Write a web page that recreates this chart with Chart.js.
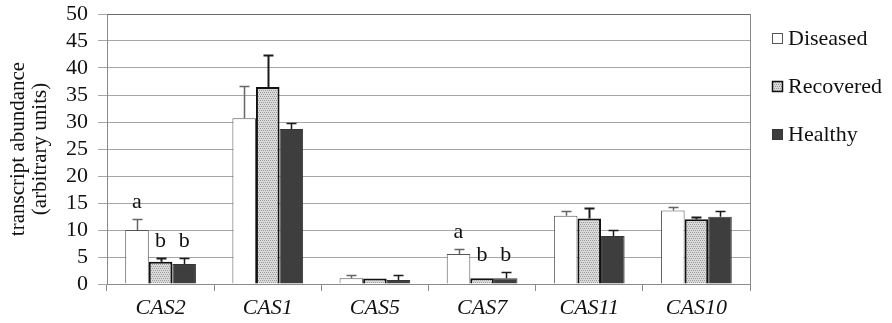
<!DOCTYPE html>
<html>
<head>
<meta charset="utf-8">
<script src="https://cdn.jsdelivr.net/npm/chart.js@4.4.0/dist/chart.umd.min.js"></script>
<style>
html,body{margin:0;padding:0;background:#fff;}
#wrap{width:892px;height:323px;position:relative;}
</style>
</head>
<body>
<div id="wrap"><canvas id="c" width="892" height="323"></canvas></div>
<script>
const categories = ['CAS2', 'CAS1', 'CAS5', 'CAS7', 'CAS11', 'CAS10'];
const seriesNames = ['Diseased', 'Recovered', 'Healthy'];
const diseased = [10.0, 30.7, 1.05, 5.55, 12.65, 13.6];
const recovered = [4.1, 36.5, 1.0, 1.05, 12.15, 12.0];
const healthy = [3.7, 28.7, 0.75, 1.05, 8.9, 12.45];
const diseasedErr = [2.0, 6.0, 0.65, 0.95, 0.95, 0.7];
const recoveredErr = [0.8, 6.0, 0.0, 0.0, 1.95, 0.5];
const healthyErr = [1.2, 1.2, 0.95, 1.15, 1.1, 1.15];
const diseasedLetters = ['a', '', '', 'a', '', ''];
const recoveredLetters = ['b', '', '', 'b', '', ''];
const healthyLetters = ['b', '', '', 'b', '', ''];
const yTicks = [0, 5, 10, 15, 20, 25, 30, 35, 40, 45, 50];
const yTitle = ['transcript abundance', '(arbitrary units)'];

const FAMILY = "'Liberation Serif', 'Times New Roman', Times, serif";
Chart.defaults.font.family = FAMILY;
Chart.defaults.color = '#111';

function makePattern() {
  const p = document.createElement('canvas');
  p.width = 4; p.height = 4;
  const g = p.getContext('2d');
  g.fillStyle = '#dadada';
  g.fillRect(0, 0, 4, 4);
  g.fillStyle = '#9c9c9c';
  g.fillRect(0, 0, 1, 1);
  g.fillRect(2, 0, 1, 1);
  g.fillRect(1, 2, 1, 1);
  g.fillRect(3, 2, 1, 1);
  return document.getElementById('c').getContext('2d').createPattern(p, 'repeat');
}

const errors = [diseasedErr, recoveredErr, healthyErr];
const letters = [diseasedLetters, recoveredLetters, healthyLetters];

const extrasPlugin = {
  id: 'extras',
  afterDatasetsDraw(chart) {
    const ctx = chart.ctx;
    const y = chart.scales.y;
    ctx.save();
    // error bars (upper only)
    chart.data.datasets.forEach((ds, di) => {
      const meta = chart.getDatasetMeta(di);
      meta.data.forEach((bar, i) => {
        const e = errors[di][i];
        if (!e) return;
        const top = Math.round(y.getPixelForValue(ds.data[i] + e)) + 0.5;
        const base = y.getPixelForValue(ds.data[i]);
        const x = Math.round(bar.x) + 0.5;
        ctx.strokeStyle = di === 0 ? '#666' : '#1a1a1a';
        ctx.lineWidth = di === 1 ? 2 : 1.5;
        ctx.beginPath();
        ctx.moveTo(x, base);
        ctx.lineTo(x, top);
        ctx.moveTo(x - 5, top);
        ctx.lineTo(x + 5, top);
        ctx.stroke();
      });
    });
    // significance letters
    ctx.fillStyle = '#111';
    ctx.font = '22px ' + FAMILY;
    ctx.textAlign = 'center';
    ctx.textBaseline = 'alphabetic';
    categories.forEach((c, i) => {
      const groups = {};
      letters.forEach((arr, di) => {
        const l = arr[i];
        if (!l) return;
        const topVal = chart.data.datasets[di].data[i] + errors[di][i];
        groups[l] = Math.max(groups[l] || 0, topVal);
      });
      letters.forEach((arr, di) => {
        const l = arr[i];
        if (!l) return;
        const bar = chart.getDatasetMeta(di).data[i];
        ctx.fillText(l, bar.x, y.getPixelForValue(groups[l]) - 11);
      });
    });
    // plot frame
    const a = chart.chartArea;
    ctx.strokeStyle = '#8a8a8a';
    ctx.lineWidth = 1;
    ctx.strokeRect(Math.round(a.left) + 0.5, Math.round(a.top) + 0.5, Math.round(a.right - a.left), Math.round(a.bottom - a.top));
    ctx.strokeStyle = '#6a6a6a';
    ctx.beginPath();
    ctx.moveTo(a.left, Math.round(a.top) + 0.5);
    ctx.lineTo(a.right, Math.round(a.top) + 0.5);
    ctx.stroke();
    ctx.restore();
  },
  afterDraw(chart) {
    // legend at the right of the plot
    const ctx = chart.ctx;
    const a = chart.chartArea;
    ctx.save();
    ctx.font = '22px ' + FAMILY;
    ctx.textBaseline = 'middle';
    ctx.textAlign = 'left';
    chart.data.datasets.forEach((ds, i) => {
      const cy = a.top + 24 + i * 48;
      const bx = a.right + 22;
      ctx.fillStyle = ds.backgroundColor;
      ctx.fillRect(bx, cy - 5, 11, 11);
      ctx.strokeStyle = ds.borderColor;
      ctx.lineWidth = i === 1 ? 1.5 : 1;
      ctx.strokeRect(bx + 0.5, cy - 4.5, 10, 10);
      ctx.fillStyle = '#111';
      ctx.fillText(ds.label, bx + 16, cy + 1);
    });
    ctx.restore();
  }
};

function build() {
  const dotted = makePattern();
  new Chart(document.getElementById('c'), {
    type: 'bar',
    data: {
      labels: categories,
      datasets: [
        { label: seriesNames[0], data: diseased, backgroundColor: '#ffffff', borderColor: '#555555', borderWidth: 1 },
        { label: seriesNames[1], data: recovered, backgroundColor: dotted, borderColor: '#111111', borderWidth: 2 },
        { label: seriesNames[2], data: healthy, backgroundColor: '#3e3e3e', borderColor: '#363636', borderWidth: 1 }
      ]
    },
    options: {
      responsive: false,
      animation: false,
      devicePixelRatio: 1,
      layout: { padding: { top: 14, right: 142, left: 0, bottom: 0 } },
      datasets: { bar: { categoryPercentage: 0.66, barPercentage: 1.0 } },
      plugins: {
        legend: { display: false },
        tooltip: { enabled: false }
      },
      scales: {
        x: {
          offset: true,
          afterFit(scale) { scale.height = 39; scale.paddingLeft = 0; scale.paddingRight = 0; },
          grid: { display: true, drawOnChartArea: false, offset: true, tickLength: 7, color: '#8a8a8a' },
          border: { display: true, color: '#8a8a8a' },
          ticks: { color: '#111', font: { family: FAMILY, size: 22, style: 'italic' }, padding: 4, autoSkip: false, maxRotation: 0 }
        },
        y: {
          min: 0,
          max: 50,
          afterFit(scale) { scale.width = 107; scale.paddingTop = 0; scale.paddingBottom = 0; },
          afterBuildTicks(scale) { scale.ticks = yTicks.map(v => ({ value: v })); },
          grid: { color: '#a6a6a6', tickLength: 9, lineWidth: 1 },
          border: { display: true, color: '#8a8a8a' },
          ticks: { color: '#111', font: { family: FAMILY, size: 22 }, padding: 10, autoSkip: false },
          title: { display: true, text: yTitle, color: '#111', font: { family: FAMILY, size: 21, lineHeight: 1.05 }, padding: { top: 7, bottom: 4 } }
        }
      }
    },
    plugins: [extrasPlugin]
  });
}

Promise.all([
  document.fonts.load('22px "Liberation Serif"'),
  document.fonts.load('italic 22px "Liberation Serif"')
]).then(build, build);
</script>
</body>
</html>
